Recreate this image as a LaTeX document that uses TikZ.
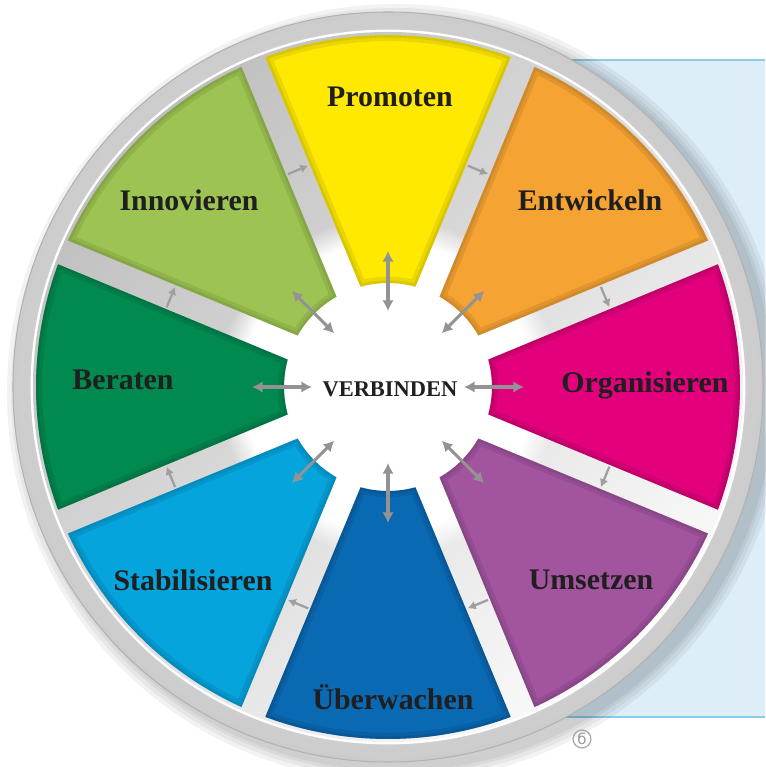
\documentclass[tikz,border=0pt]{standalone}
\usepackage{fontspec}
\setmainfont{Liberation Serif}
\newfontfamily\symfont{DejaVu Sans}
\usetikzlibrary{arrows.meta,calc,fadings}
\definecolor{promo}{HTML}{FFE900}
\definecolor{entw}{HTML}{F5A332}
\definecolor{orga}{HTML}{E3007D}
\definecolor{umse}{HTML}{A2549F}
\definecolor{uebe}{HTML}{0A69B3}
\definecolor{stab}{HTML}{05A4DD}
\definecolor{bera}{HTML}{008A50}
\definecolor{inno}{HTML}{9DC452}
\definecolor{panel}{HTML}{DDEEF8}
\definecolor{panelline}{HTML}{8CCCE8}
\def\ri{104}
\def\ro{352}
\def\ai{7.2}
\def\ao{2.1}
\tikzset{
  seg/.style={insert path={(#1-22.5+\ai:\ri) -- (#1-22.5+\ao:\ro)
      arc[start angle=#1-22.5+\ao, end angle=#1+22.5-\ao, radius=\ro]
      -- (#1+22.5-\ai:\ri)
      arc[start angle=#1+22.5-\ai, end angle=#1-22.5+\ai, radius=\ri] -- cycle}},
  seglabel/.style={font=\bfseries\fontsize{17}{17}\selectfont, text=black!88},
  linkarrow/.style={draw=gray!85, line width=1.8pt,
      {Latex[length=6pt,width=6.5pt]}-{Latex[length=6pt,width=6.5pt]}},
  flowarrow/.style={draw=gray!75, line width=1.3pt, -{Latex[length=4.5pt,width=5pt]}}
}
\begin{document}
\begin{tikzpicture}[x=0.02cm,y=0.02cm]
    \useasboundingbox (-388,-380) rectangle (377,387);
    % panel behind the wheel
    \fill[panel] (150,-330) rectangle (377,327);
    \draw[panelline, line width=1.2pt] (150,327) -- (377,327) (150,-330) -- (377,-330);
    % soft shadow
    \foreach \s in {14,10,6,3}
        \fill[black, opacity=0.05] (8,-6) circle (375+\s);
    % bezel
    \shade[inner color=gray!10, outer color=gray!40] (0,0) circle (375);
    \draw[gray!60, line width=0.6pt] (0,0) circle (375);
    \draw[white, line width=1.6pt] (0,0) circle (356);
    \shade[shading=axis, top color=gray!50, bottom color=gray!4, shading angle=45] (0,0) circle (355);
    \fill[white, path fading=circle with fuzzy edge 15 percent] (0,0) circle (170);
    % segments
    \foreach \a/\c/\t/\lx/\ly [count=\i] in {90/promo/Promoten/2/290,
            45/entw/Entwickeln/202/187, 0/orga/Organisieren/257/2,
            -45/umse/Umsetzen/203/-193, -90/uebe/\"Uberwachen/5/-310,
            -135/stab/Stabilisieren/-195/-193, 180/bera/Beraten/-265/7,
            135/inno/Innovieren/-199/187} {
        \fill[\c, seg=\a];
        \begin{scope}
            \clip[seg=\a];
            \draw[\c!55!black, line width=7pt, opacity=0.18, seg=\a];
            \draw[\c!65!black, line width=3pt, opacity=0.25, seg=\a];
        \end{scope}
        \node[seglabel] (lab\i) at (\lx,\ly) {\t};
    }
    \node[font=\bfseries\fontsize{12.8}{13}\selectfont, text=black!88] (center) at (2,-2) {VERBINDEN};
    % links to the centre
    \foreach \a [count=\i] in {90,45,0,-45,-90,-135,180,135} {
        \coordinate (in\i) at (\a:76);
        \coordinate (out\i) at (\a:136);
        \draw[linkarrow] (in\i) -- (out\i);
    }
    % flow round the wheel
    \foreach \b [count=\i] in {67.5,22.5,-22.5,-67.5,-112.5,-157.5,157.5,112.5} {
        \coordinate (fs\i) at ($(\b:235)+(\b+90:11)$);
        \coordinate (fe\i) at ($(\b:235)+(\b-90:11)$);
        \draw[flowarrow] (fs\i) -- (fe\i);
    }
    \node[circle, draw=gray!70, line width=0.7pt, text=gray!80, inner sep=0.6pt,
        font=\symfont\fontsize{8.5}{8.5}\selectfont] (mark) at (194,-352) {б};
\end{tikzpicture}
\end{document}
